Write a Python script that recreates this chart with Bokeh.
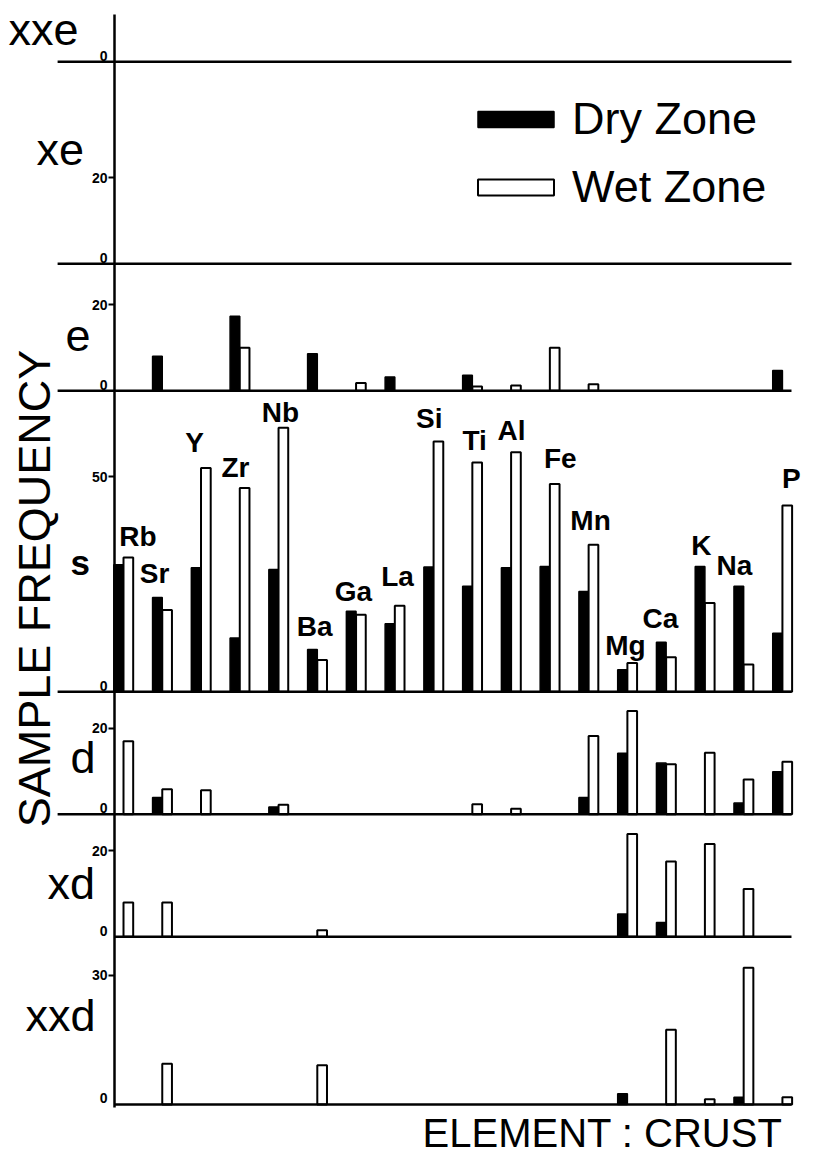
import math
from bokeh.plotting import figure
from bokeh.models import (ColumnDataSource, Label, LabelSet, Legend, LegendItem,
                          FixedTicker, Range1d, LinearAxis)
from bokeh.core.properties import value
from bokeh.embed import file_html
from bokeh.resources import INLINE

# ---------------- data ----------------
elements = ["Rb", "Sr", "Y", "Zr", "Nb", "Ba", "Ga", "La", "Si",
            "Ti", "Al", "Fe", "Mn", "Mg", "Ca", "K", "Na", "P"]

# sample frequency per element: dry zone / wet zone
xxe_dry = [0] * 18
xxe_wet = [0] * 18
xe_dry = [0] * 18
xe_wet = [0] * 18
e_dry = [0, 8, 0, 17.3, 0, 8.6, 0, 3.2, 0, 3.6, 0, 0, 0, 0, 0, 0, 0, 4.7]
e_wet = [0, 0, 0, 10, 0, 0, 1.8, 0, 0, 1, 1.2, 10, 1.5, 0, 0, 0, 0, 0]
s_dry = [29.5, 21.9, 28.8, 12.5, 28.4, 9.8, 18.7, 15.8, 29, 24.5, 28.8, 29.1, 23.3, 5.1, 11.5, 29.1, 24.5, 13.6]
s_wet = [31.2, 19, 52, 47.4, 61.4, 7.4, 17.9, 20, 58.2, 53.3, 55.7, 48.3, 34.2, 6.7, 8, 20.6, 6.3, 43.3]
d_dry = [0, 3.9, 0, 0, 1.7, 0, 0, 0, 0, 0, 0, 0, 3.9, 14.2, 11.9, 0, 2.6, 9.9]
d_wet = [17, 5.8, 5.6, 0, 2.2, 0, 0, 0, 0, 2.3, 1.3, 0, 18.2, 24, 11.6, 14.3, 8.1, 12.2]
xd_dry = [0, 0, 0, 0, 0, 0, 0, 0, 0, 0, 0, 0, 0, 5.3, 3.3, 0, 0, 0]
xd_wet = [8, 8, 0, 0, 0, 1.5, 0, 0, 0, 0, 0, 0, 0, 23.9, 17.5, 21.6, 11.1, 0]
xxd_dry = [0, 0, 0, 0, 0, 0, 0, 0, 0, 0, 0, 0, 0, 2.5, 0, 0, 1.7, 0]
xxd_wet = [0, 9.5, 0, 0, 0, 9.1, 0, 0, 0, 0, 0, 0, 0, 0, 17.4, 1.2, 31.8, 1.7]

panel_names = ["xxd", "xd", "d", "s", "e", "xe", "xxe"]          # bottom to top
panel_top_tick = [30, 20, 20, 50, 20, 20, None]
panel_dry = [xxd_dry, xd_dry, d_dry, s_dry, e_dry, xe_dry, xxe_dry]
panel_wet = [xxd_wet, xd_wet, d_wet, s_wet, e_wet, xe_wet, xxe_wet]

# ---------------- layout ----------------
panel_heights = [39, 28.5, 28.5, 70, 29.5, 47]   # vertical extent of each strip (bottom to top)
offsets = [0]
for h in panel_heights:
    offsets.append(offsets[-1] + h)

BAR_W = 0.25
AXIS_X = -0.232          # where the frequency axis stands
RIGHT_X = 17.234         # right end of the strip baselines
LEFT_EXT = -1.7          # baselines that run past the axis on the left
ZERO_LIFT = 1.4          # the "0" labels sit just above each baseline
FONT = "Liberation Sans"

p = figure(width=814, height=1156,
           x_range=Range1d(-3.1734, 17.8277), y_range=Range1d(-12.093, 256.744),
           output_backend="svg", toolbar_location=None, min_border=0)
p.outline_line_color = None
p.xgrid.visible = False
p.ygrid.visible = False
p.xaxis.visible = False

dry = dict(x=[], bottom=[], top=[])
wet = dict(x=[], bottom=[], top=[])
for off, dv, wv in zip(offsets, panel_dry, panel_wet):
    for i, (a, b) in enumerate(zip(dv, wv)):
        if a > 0:
            dry["x"].append(i - BAR_W / 2); dry["bottom"].append(off); dry["top"].append(off + a)
        if b > 0:
            wet["x"].append(i + BAR_W / 2); wet["bottom"].append(off); wet["top"].append(off + b)

r_dry = p.vbar(x="x", width=BAR_W, bottom="bottom", top="top", source=ColumnDataSource(dry),
               fill_color="black", line_color="black", line_width=1.5)
r_wet = p.vbar(x="x", width=BAR_W, bottom="bottom", top="top", source=ColumnDataSource(wet),
               fill_color="white", line_color="black", line_width=2)

# baselines of each strip
base = dict(x0=[LEFT_EXT if 2 <= k <= 6 else AXIS_X for k in range(len(offsets))],
            x1=[RIGHT_X] * len(offsets), y=offsets)
p.segment(x0="x0", y0="y", x1="x1", y1="y", source=ColumnDataSource(base),
          line_color="black", line_width=2.5)

# main frequency axis: one scale tick per strip
ticks, overrides = [], {}
for off, tt in zip(offsets, panel_top_tick):
    if tt is not None:
        ticks.append(off + tt); overrides[off + tt] = str(tt)
yax = p.yaxis[0]
yax.fixed_location = AXIS_X
yax.bounds = (-0.7, 253.5)
yax.ticker = FixedTicker(ticks=ticks)
yax.major_label_overrides = overrides
yax.minor_tick_line_color = None
yax.major_tick_in = 0
yax.major_tick_out = 6
yax.major_tick_line_width = 2
yax.axis_line_width = 2.5
yax.major_label_standoff = 1
yax.major_label_text_font = FONT
yax.major_label_text_font_style = "bold"
yax.major_label_text_font_size = "14px"
yax.major_label_text_color = "black"

# zero labels of every strip (placed just above each baseline)
zticks = [off + ZERO_LIFT for off in offsets]
zax = LinearAxis(fixed_location=AXIS_X, ticker=FixedTicker(ticks=zticks),
                 major_label_overrides={t: "0" for t in zticks},
                 axis_line_color=None, major_tick_line_color=None, minor_tick_line_color=None,
                 major_tick_in=0, major_tick_out=6, major_label_standoff=1,
                 major_label_text_font=FONT, major_label_text_font_style="bold",
                 major_label_text_font_size="14px", major_label_text_color="black")
p.add_layout(zax, "left")

# strip names
strip_label_x = [-2.528, -1.961, -1.367, -1.367, -1.496, -2.245, -2.97]
strip_label_dy = [20.7, 12.4, 13.2, 30, 12.8, 26.6, 7.4]
for name, off, lx, dy in zip(panel_names, offsets, strip_label_x, strip_label_dy):
    bold = name == "s"
    p.add_layout(Label(x=lx, y=off + dy, text=name, text_font=FONT,
                       text_font_size="35px" if bold else "45px",
                       text_font_style="bold" if bold else "normal",
                       text_color="black",
                       text_align="left", text_baseline="alphabetic"))

# element labels inside the 's' strip
lab_dx = [0.374, -0.2, -0.168, -0.11, 0.05, -0.07, -0.07, 0.07, -0.11,
          0.06, 0.01, 0.27, 0.05, -0.05, -0.15, -0.09, -0.24, 0.23]
lab_dy = [36.1, 27.5, 58.0, 52.1, 64.9, 15.2, 23.3, 26.8, 63.5,
          58.4, 60.7, 54.2, 39.8, 10.7, 17.0, 34.0, 29.3, 49.6]
s_off = offsets[panel_names.index("s")]
lab_src = ColumnDataSource(dict(x=[i + dx for i, dx in enumerate(lab_dx)],
                                y=[s_off + dy for dy in lab_dy], text=elements))
p.add_layout(LabelSet(x="x", y="y", text="text", source=lab_src, text_font=value(FONT),
                      text_font_style="bold", text_font_size="28px", text_color="black",
                      text_align="center", text_baseline="middle"))

# axis titles
p.add_layout(Label(x=-2.296, y=120.0, text="SAMPLE FREQUENCY", angle=math.pi / 2,
                   text_font=FONT, text_font_size="45px", text_color="black",
                   text_align="center", text_baseline="middle"))
p.add_layout(Label(x=12.36, y=-11.86, text="ELEMENT : CRUST",
                   text_font=FONT, text_font_size="40px", text_color="black",
                   text_align="center", text_baseline="bottom"))

# legend
legend = Legend(items=[LegendItem(label="Dry Zone", renderers=[r_dry]),
                       LegendItem(label="Wet Zone", renderers=[r_wet])],
                location=(468, 943), orientation="vertical",
                glyph_width=95, glyph_height=20, label_standoff=9,
                spacing=16, padding=0, margin=0,
                label_text_font=FONT, label_text_font_size="45px",
                label_text_color="black",
                background_fill_alpha=0, border_line_color=None)
p.add_layout(legend)

open("out.html", "w").write(file_html(p, INLINE))
